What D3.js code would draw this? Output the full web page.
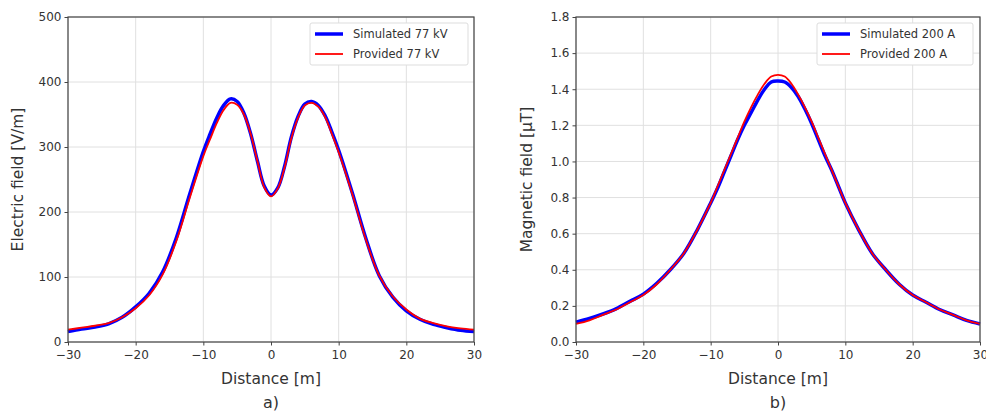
<!DOCTYPE html>
<html>
<head>
<meta charset="utf-8">
<script src="https://d3js.org/d3.v7.min.js"></script>
<style>
  body { margin: 0; background: #fff; }
  text { font-family: "DejaVu Sans", sans-serif; fill: #333; }
  .grid line { stroke: #e0e0e0; stroke-width: 1; }
  .axis path, .axis line { stroke: #444; }
</style>
</head>
<body>
<svg id="fig" width="986" height="413"></svg>
<script>
// distance positions (m)
var distance = [-30,-28,-26,-24,-22,-20,-18,-16,-14,-12,
                -10,-9,-8,-7,-6,-5,-4,-3,-2,-1,0,1,2,3,4,5,6,7,8,9,10,
                12,14,16,18,20,22,24,26,28,30];

// a) electric field [V/m]
var eSimulated = [16,20,23,28,38,54,75,108,160,228,
                  293,320,345,364,374,370,352,320,278,240,226,237,270,315,347,366,370,364,348,323,295,
                  230,160,102,69,48,35,27,22,18,16];
var eProvided  = [19,22,25,29,38,52,72,104,155,222,
                  286,312,337,357,368,365,350,320,278,238,224,236,268,313,345,364,368,362,346,320,292,
                  228,158,102,70,50,36,29,24,21,19];

// b) magnetic field [uT]
var bSimulated = [0.11,0.13,0.155,0.185,0.225,0.265,0.325,0.40,0.49,0.62,
                  0.77,0.85,0.94,1.03,1.12,1.20,1.27,1.34,1.40,1.44,1.445,1.44,1.41,1.36,1.29,1.21,1.12,1.03,0.95,0.86,0.77,
                  0.62,0.49,0.40,0.32,0.26,0.22,0.18,0.15,0.12,0.10];
var bProvided  = [0.10,0.12,0.15,0.18,0.22,0.26,0.32,0.40,0.49,0.62,
                  0.77,0.86,0.95,1.04,1.13,1.22,1.30,1.37,1.43,1.47,1.48,1.47,1.43,1.37,1.30,1.22,1.13,1.04,0.95,0.86,0.77,
                  0.62,0.49,0.40,0.32,0.26,0.22,0.18,0.15,0.12,0.10];

var xTicks = [-30,-20,-10,0,10,20,30];
var eTicks = [0,100,200,300,400,500];
var bTicks = [0,0.2,0.4,0.6,0.8,1.0,1.2,1.4,1.6,1.8];

var svg = d3.select('#fig');

function minus(v) { return String(v).replace('-', '\u2212'); }

function drawPanel(opt) {
  var x = d3.scaleLinear().domain([-30, 30]).range([opt.left, opt.right]);
  var y = d3.scaleLinear().domain(opt.yDomain).range([opt.bottom, opt.top]);
  var g = svg.append('g');

  // grid
  var grid = g.append('g').attr('class', 'grid');
  grid.selectAll('.gx').data(xTicks).enter().append('line')
    .attr('x1', x).attr('x2', x).attr('y1', opt.top).attr('y2', opt.bottom);
  grid.selectAll('.gy').data(opt.yTicks).enter().append('line')
    .attr('y1', y).attr('y2', y).attr('x1', opt.left).attr('x2', opt.right);

  // lines
  var line = function (vals) {
    return d3.line()
      .x(function (d, i) { return x(distance[i]); })
      .y(function (d) { return y(d); })
      .curve(d3.curveCatmullRom)(vals);
  };
  g.append('path').attr('d', line(opt.sim)).attr('fill', 'none')
    .attr('stroke', '#0000ff').attr('stroke-width', 3.5);
  g.append('path').attr('d', line(opt.prov)).attr('fill', 'none')
    .attr('stroke', '#ff0000').attr('stroke-width', 1.8);

  // frame
  g.append('rect').attr('x', opt.left).attr('y', opt.top)
    .attr('width', opt.right - opt.left).attr('height', opt.bottom - opt.top)
    .attr('fill', 'none').attr('stroke', '#444').attr('stroke-width', 1.2);

  // axes
  var xa = g.append('g').attr('class', 'axis')
    .attr('transform', 'translate(0,' + opt.bottom + ')')
    .call(d3.axisBottom(x).tickValues(xTicks).tickSize(3.5).tickSizeOuter(0).tickFormat(minus));
  var ya = g.append('g').attr('class', 'axis')
    .attr('transform', 'translate(' + opt.left + ',0)')
    .call(d3.axisLeft(y).tickValues(opt.yTicks).tickSize(3.5).tickSizeOuter(0).tickFormat(opt.yFormat));
  [xa, ya].forEach(function (a) {
    a.select('.domain').remove();
    a.selectAll('text').style('font-size', '12px').attr('fill', '#333');
  });
  xa.selectAll('text').attr('dy', '0.85em');

  // labels
  var cx = (opt.left + opt.right) / 2;
  g.append('text').attr('x', cx).attr('y', 384).attr('text-anchor', 'middle')
    .style('font-size', '15.5px').text('Distance [m]');
  g.append('text').attr('x', cx).attr('y', 408).attr('text-anchor', 'middle')
    .style('font-size', '16px').text(opt.caption);
  g.append('text')
    .attr('transform', 'translate(' + opt.ylabX + ',' + ((opt.top + opt.bottom) / 2) + ') rotate(-90)')
    .attr('text-anchor', 'middle').style('font-size', '15.5px').text(opt.ylabel);

  // legend
  var lg = g.append('g').attr('transform', 'translate(' + opt.legX + ',23)');
  lg.append('rect').attr('width', opt.legW).attr('height', 42).attr('rx', 2)
    .attr('fill', '#fff').attr('stroke', '#ddd');
  lg.append('line').attr('x1', 5).attr('x2', 33).attr('y1', 11).attr('y2', 11)
    .attr('stroke', '#0000ff').attr('stroke-width', 3.5);
  lg.append('line').attr('x1', 5).attr('x2', 33).attr('y1', 31).attr('y2', 31)
    .attr('stroke', '#ff0000').attr('stroke-width', 1.8);
  lg.append('text').attr('x', 43).attr('y', 15).style('font-size', '11.5px').text(opt.names[0]);
  lg.append('text').attr('x', 43).attr('y', 35).style('font-size', '11.5px').text(opt.names[1]);
}

drawPanel({
  left: 68, right: 474, top: 17, bottom: 342,
  yDomain: [0, 500], yTicks: eTicks, yFormat: d3.format('d'),
  sim: eSimulated, prov: eProvided,
  ylabel: 'Electric field [V/m]', ylabX: 23, caption: 'a)',
  legX: 310, legW: 158, names: ['Simulated 77 kV', 'Provided 77 kV']
});

drawPanel({
  left: 576, right: 980, top: 17, bottom: 342,
  yDomain: [0, 1.8], yTicks: bTicks, yFormat: d3.format('.1f'),
  sim: bSimulated, prov: bProvided,
  ylabel: 'Magnetic field [\u03bcT]', ylabX: 532, caption: 'b)',
  legX: 817, legW: 156, names: ['Simulated 200 A', 'Provided 200 A']
});
</script>
</body>
</html>
